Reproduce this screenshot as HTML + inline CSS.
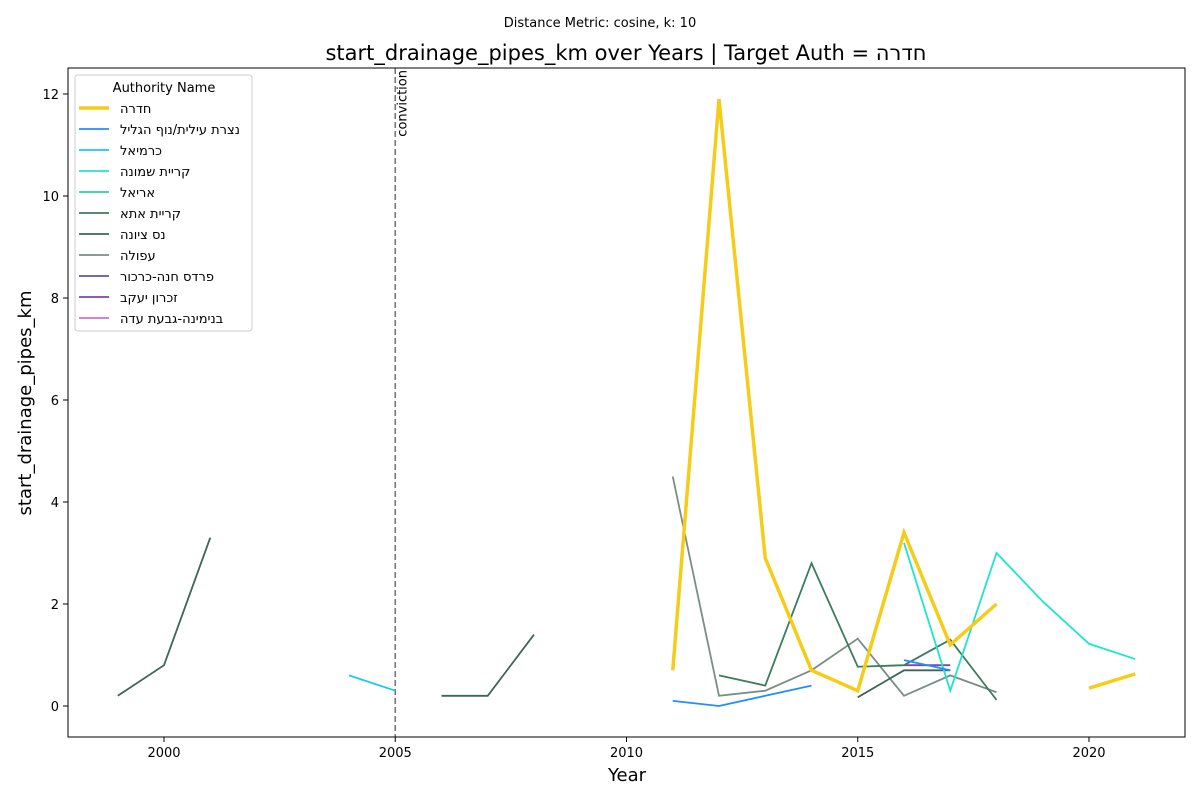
<!DOCTYPE html>
<html><head><meta charset="utf-8"><style>
body{margin:0;background:#fff}
text{font-family:"DejaVu Sans","Liberation Sans",sans-serif}
</style></head><body>
<svg id="chart" width="1200" height="800" xmlns="http://www.w3.org/2000/svg">
<rect width="1200" height="800" fill="#fff"/>
<text x="600" y="27" text-anchor="middle" font-size="13">Distance Metric: cosine, k: 10</text>
<text id="title" x="626" y="60" text-anchor="middle" font-size="21"></text>
<g id="axes"></g>
<g id="series"></g>
<rect x="68" y="68" width="1117" height="669" fill="none" stroke="#000" stroke-width="1"/>
<text x="627" y="781" text-anchor="middle" font-size="18">Year</text>
<text transform="translate(31,403) rotate(-90)" text-anchor="middle" font-size="18">start_drainage_pipes_km</text>
<g id="legend"></g>
</svg>
<script>
const years=[1999,2000,2001,2002,2003,2004,2005,2006,2007,2008,2009,2010,2011,2012,2013,2014,2015,2016,2017,2018,2019,2020,2021];
const names=["הרדח","לילגה ףונ/תיליע תרצנ","לאימרכ","הנומש תיירק","לאירא","אתא תיירק","הנויצ סנ","הלופע","רוכרכ-הנח סדרפ","בקעי ןורכז","הדע תעבג-הנימינב"];
const colors=["#f5cc18","#1e8fff","#1ec8f0","#1ee6c8","#2ed39a","#3a7d5e","#3d6656","#7a8e84","#5a58a8","#8040b0","#d070d0"];
const N=null;
const hadera=[N,N,N,N,N,N,N,N,N,N,N,N,0.7,11.9,2.9,0.7,0.3,3.4,1.2,2.0,N,0.35,0.63];
const nazareth=[N,N,N,N,N,N,N,N,N,N,N,N,0.1,0.0,0.2,0.4,N,0.9,0.7,N,N,N,N];
const karmiel=[N,N,N,N,N,0.6,0.3,N,N,N,N,N,N,N,N,N,N,N,N,N,N,N,N];
const kiryatShmona=[N,N,N,N,N,N,N,N,N,N,N,N,N,N,N,N,N,3.2,0.3,3.0,2.05,1.22,0.92];
const ariel=[N,N,N,N,N,N,N,N,N,N,N,N,N,N,N,N,N,N,N,N,N,N,N];
const kiryatAta=[N,N,N,N,N,N,N,N,N,N,N,N,N,0.6,0.4,2.8,0.77,0.8,1.3,0.12,N,N,N];
const nesZiona=[0.2,0.8,3.3,N,N,N,N,0.2,0.2,1.4,N,N,N,N,N,N,0.17,0.7,0.7,N,N,N,N];
const afula=[N,N,N,N,N,N,N,N,N,N,N,N,4.5,0.2,0.3,0.7,1.32,0.2,0.6,0.27,N,N,N];
const pardes=[N,N,N,N,N,N,N,N,N,N,N,N,N,N,N,N,N,N,N,N,N,N,N];
const zichron=[N,N,N,N,N,N,N,N,N,N,N,N,N,N,N,N,N,0.8,0.8,N,N,N,N];
const binyamina=[N,N,N,N,N,N,N,N,N,N,N,N,N,N,N,N,N,N,N,N,N,N,N];
const seriesData=[hadera,nazareth,karmiel,kiryatShmona,ariel,kiryatAta,nesZiona,afula,pardes,zichron,binyamina];
const xTicks=[2000,2005,2010,2015,2020];
const yTicks=[0,2,4,6,8,10,12];
const slugs=["hadera","nazareth-illit","karmiel","kiryat-shmona","ariel","kiryat-ata","nes-ziona","afula","pardes-hanna","zichron-yaakov","binyamina"];

const rev=s=>s.split('').reverse().join('');
document.getElementById('title').textContent='start_drainage_pipes_km over Years | Target Auth = '+rev(names[0]);
const NS="http://www.w3.org/2000/svg";
const X=y=>164+(y-2000)*46.25;
const Y=v=>706-v*51;
function mk(tag,attrs,parent){const e=document.createElementNS(NS,tag);for(const k in attrs)e.setAttribute(k,attrs[k]);parent.appendChild(e);return e;}
const axes=document.getElementById('axes');
xTicks.forEach(t=>{
  const l=mk('line',{x1:X(t),x2:X(t),y1:737,y2:742,stroke:'#000'},axes);
  
  
  const tx=mk('text',{x:X(t),y:757,'text-anchor':'middle','font-size':13},axes);tx.textContent=t;
  
  
});
yTicks.forEach(t=>{
  const l=mk('line',{x1:63,x2:68,y1:Y(t),y2:Y(t),stroke:'#000'},axes);
  
  
  const tx=mk('text',{x:59,y:Y(t)+5,'text-anchor':'end','font-size':13},axes);tx.textContent=t;
  
  
});
const vl=mk('line',{x1:X(2005),x2:X(2005),y1:68,y2:737,stroke:'#777','stroke-width':1.6,'stroke-dasharray':'6,3'},axes);


const vt=mk('text',{transform:`translate(${X(2005)+11},70) rotate(-90)`,'text-anchor':'end','font-size':13},axes);vt.textContent='conviction';



const sg=document.getElementById('series');
for(let s=seriesData.length-1;s>=1;s--){
  drawSeries(s);
}
drawSeries(0);
function drawSeries(s){
  const d=seriesData[s];let segs=[],cur=[];
  d.forEach((v,i)=>{if(v===null){if(cur.length)segs.push(cur);cur=[];}else cur.push(X(years[i])+','+Y(v));});
  if(cur.length)segs.push(cur);
  segs.forEach(seg=>{
    const p=mk('polyline',{points:seg.join(' '),fill:'none',stroke:colors[s],'stroke-width':s===0?3.5:1.8},sg);
    
    
  });
}

const lg=document.getElementById('legend');
const box=mk('rect',{x:75,y:75,width:177,height:256,rx:3,fill:'#fff','fill-opacity':0.8,stroke:'#ccc'},lg);


const lt=mk('text',{x:164,y:92,'text-anchor':'middle','font-size':13},lg);lt.textContent='Authority Name';


names.forEach((n,i)=>{
  const y=108+i*21;
  const g=mk('g',{},lg);
  
  
  mk('line',{x1:79,x2:109,y1:y,y2:y,stroke:colors[i],'stroke-width':i===0?3.5:1.8},g);
  const t=mk('text',{x:120,y:y+5,'font-size':13},g);t.textContent=rev(n);
});
</script>
</body></html>
